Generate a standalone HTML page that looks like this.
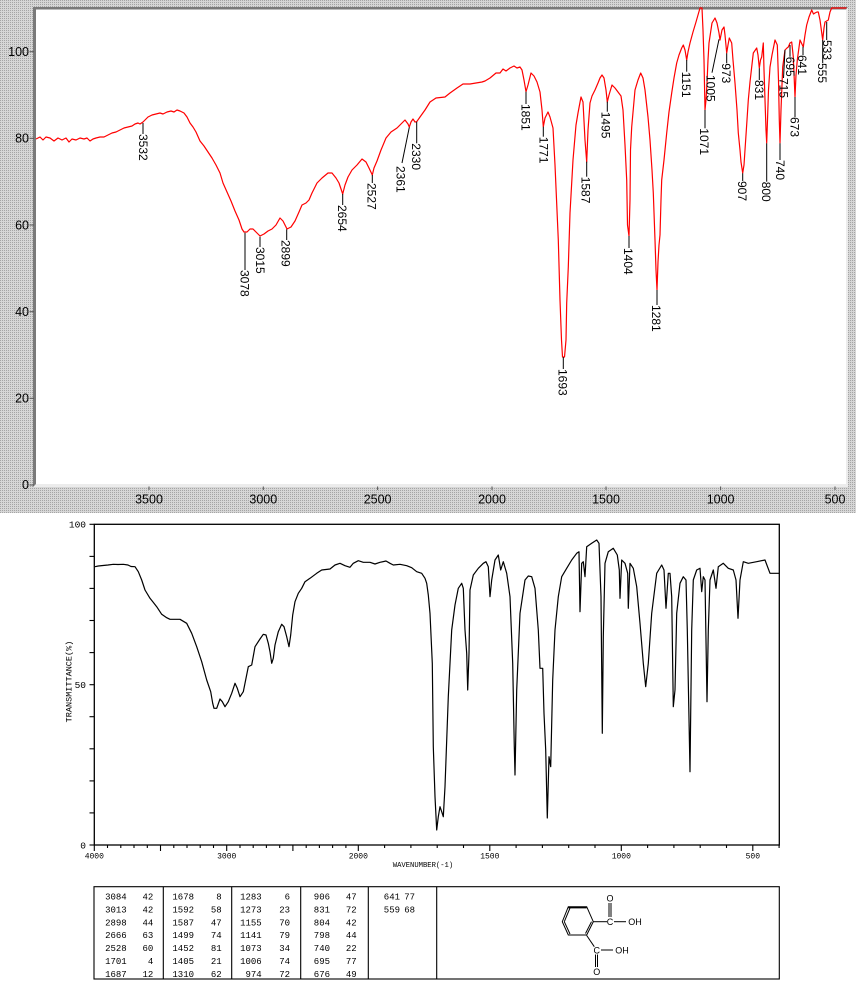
<!DOCTYPE html>
<html><head><meta charset="utf-8"><style>
html,body{margin:0;padding:0;background:#fff;}
svg{display:block;}
</style></head><body>
<svg width="856" height="987" viewBox="0 0 856 987" xmlns="http://www.w3.org/2000/svg">
<defs>
<pattern id="ht" width="2" height="2" patternUnits="userSpaceOnUse">
<rect width="2" height="2" fill="#d6d6d6"/><rect width="1" height="1" fill="#a4a4a4"/>
</pattern>
</defs>
<rect width="856" height="987" fill="#fff"/>
<rect x="0" y="0" width="856" height="513" fill="url(#ht)"/>
<!-- bevel -->
<rect x="33" y="7" width="815" height="480" fill="#ececec"/>
<polygon points="33,7 848,7 846,9.5 36,9.5 36,484 33,487" fill="#7a7a7a"/>
<rect x="36" y="9.5" width="810" height="474.5" fill="#fff"/>

<!-- top y labels -->
<g font-family="Liberation Sans, sans-serif" font-size="12.5" fill="#000" text-anchor="end">
<text x="29" y="56">100</text>
<text x="29" y="142.5">80</text>
<text x="29" y="229.5">60</text>
<text x="29" y="316">40</text>
<text x="29" y="402.5">20</text>
<text x="29" y="489">0</text>
</g>
<g stroke="#555" stroke-width="1">
<line x1="29.5" y1="51.7" x2="34" y2="51.7"/>
<line x1="29.5" y1="138.3" x2="34" y2="138.3"/>
<line x1="29.5" y1="225" x2="34" y2="225"/>
<line x1="29.5" y1="311.7" x2="34" y2="311.7"/>
<line x1="29.5" y1="398.3" x2="34" y2="398.3"/>
<line x1="29.5" y1="485" x2="34" y2="485"/>
<line x1="149" y1="486.5" x2="149" y2="490"/>
<line x1="263.3" y1="486.5" x2="263.3" y2="490"/>
<line x1="377.6" y1="486.5" x2="377.6" y2="490"/>
<line x1="492" y1="486.5" x2="492" y2="490"/>
<line x1="606" y1="486.5" x2="606" y2="490"/>
<line x1="720.6" y1="486.5" x2="720.6" y2="490"/>
<line x1="835" y1="486.5" x2="835" y2="490"/>
</g>
<g font-family="Liberation Sans, sans-serif" font-size="12.5" fill="#000" text-anchor="middle">
<text x="149" y="503.5">3500</text>
<text x="263.3" y="503.5">3000</text>
<text x="377.6" y="503.5">2500</text>
<text x="492" y="503.5">2000</text>
<text x="606" y="503.5">1500</text>
<text x="720.6" y="503.5">1000</text>
<text x="835" y="503.5">500</text>
</g>

<!-- top spectrum -->
<polyline fill="none" stroke="#ff0000" stroke-width="1.2" stroke-linejoin="round" points="36,139 40,137 43,140 46,137 50,138 54,141 58,138 62,140 66,138 69,142 72,139 76,140 80,138 84,139 87,138 90,141 93,139 96,138 100,137 104,137 108,135 112,133 116,132 120,130 124,128 128,127 132,126 135,124 138,123 140,124 143,122 145,120 148,117 152,115 156,114 160,113 163,114 167,112 171,111 174,112 177,110 180,111 184,113 187,117 190,123 193,127 196,132 200,141 204,146 208,152 212,158 216,165 220,173 223,183 227,192 231,201 235,211 239,220 242,229 244,232 247,232 250,229 253,229 256,232 260,236 264,234 268,231 272,229 276,225 280,218 283,221 287,229 291,227 295,221 299,212 302,205 306,203 309,200 312,193 317,183 322,178 328,173 332,173 336,178 339,183 342.7,194 345,185 348,177 352,170 357,165 362,159 366,162 369,168 372.3,175 374,168 377,161 381,150 386,138 391,132 397,128 401,124 405,120 408,124 409.3,127 411,122 413,119 415,122 416.7,121.7 420,117 425,110 430,102 436,98 445,97 450,93 457,88 463,84 470,84 476,83 482,82 485,81 490,78 496,73 500,73 503,69 506,71 510,68 514,66 517,68 520,67 522,70 524,80 526,91.7 528,85 531,73 534,76 537,82 540,92 542,110 543.3,126.7 545,118 548,112 550,117 553,128 555,165 558.3,240 560,300 561.5,340 562.5,357 564.5,357 566,340 566.7,303 568.3,267 570,213 573,160 576,125 578,113 581,97 583,102 585,140 586.7,162 588,130 590,103 592,96 595,90 598,83 600,78 602,75 604,78 606,90 607.3,102 609,95 612,85 615,88 618,92 621,96 623,110 625,145 626.7,180 627.5,225 629,236 630,200 630.5,150 631.7,127 635,90 638,80 640.7,73 643,78 645,90 648,117 650,140 652,170 653.3,193 655,240 656,270 657,290 658,262 659,245 660,235 661,200 661.7,180 664,160 666.7,133 669,112 671.7,93 674,78 676.7,63 679,55 681.7,48 683.3,45 685,50 686.7,60 688,52 690,43 693,32 696,22 698,15 700,8 702,8 703,30 704,60 705,110 706,100 707,83 708,60 709,43 712,23 715,18 717,23 719,33 720,40 722,30 724,27 725,35 726.7,53 728,45 729.3,38 731.7,43 733,60 735,83 737,110 738.3,133 740,150 741,162 742.7,173 744,165 745,150 747,120 748.3,100 750,82 753.3,53 756.7,48 758,55 759.3,68 760.5,60 761.7,57 763.3,43 764,70 765,100 766,130 766.7,143 767.5,120 768.5,90 770,67 772,55 775,40 777.3,45 778.5,80 779.3,120 780,143 781,110 782.7,67 785,50 787,48 788.3,47 790,43 791.7,42 793.3,57 795,97 796,75 797.3,60 800,40 803.3,47 805,35 806.7,25 809,17 811.7,10 813.5,14 815,13 817,12 818.3,12 820,20 822.7,40 824,28 825,22 828.3,20 830,12 831.7,8 833.3,8 846.5,8"/>

<!-- leader lines -->
<g stroke="#000" stroke-width="1" fill="none">
<line x1="143" y1="123" x2="143" y2="134"/>
<line x1="245" y1="232.7" x2="245" y2="270"/>
<line x1="260" y1="236.7" x2="260" y2="247"/>
<line x1="286.7" y1="229.3" x2="286.7" y2="240"/>
<line x1="342.7" y1="194" x2="342.7" y2="205"/>
<line x1="372.3" y1="175" x2="372.3" y2="183"/>
<line x1="409.3" y1="127.3" x2="402" y2="163"/>
<line x1="416.7" y1="121.7" x2="416.7" y2="143.3"/>
<line x1="526" y1="91.7" x2="526" y2="104"/>
<line x1="543.3" y1="126.7" x2="543.3" y2="136.7"/>
<line x1="563.3" y1="357" x2="563.3" y2="369"/>
<line x1="586.7" y1="161.7" x2="586.7" y2="176.7"/>
<line x1="607.3" y1="101.7" x2="607.3" y2="111.7"/>
<line x1="629" y1="236" x2="629" y2="248"/>
<line x1="657" y1="290" x2="657" y2="305"/>
<line x1="686.7" y1="60" x2="686.7" y2="71.7"/>
<line x1="705" y1="110" x2="705" y2="128.3"/>
<line x1="719" y1="39.3" x2="712" y2="72.7"/>
<line x1="726.7" y1="53.3" x2="726.7" y2="63.3"/>
<line x1="742.7" y1="173.3" x2="742.7" y2="181"/>
<line x1="759.3" y1="68.3" x2="759.3" y2="80"/>
<line x1="766.7" y1="143.3" x2="766.7" y2="181.7"/>
<line x1="780" y1="143.3" x2="780" y2="160"/>
<line x1="785" y1="50" x2="783.5" y2="78"/>
<line x1="790" y1="45" x2="790" y2="56.7"/>
<line x1="795" y1="97" x2="795" y2="117"/>
<line x1="803" y1="46.7" x2="803" y2="55"/>
<line x1="826.7" y1="22" x2="826.7" y2="40"/>
<line x1="822.7" y1="40" x2="822.7" y2="63"/>
</g>
<g font-family="Liberation Sans, sans-serif" font-size="12" fill="#000" dominant-baseline="central">
<text transform="translate(143,134) rotate(90)">3532</text>
<text transform="translate(244.5,270) rotate(90)">3078</text>
<text transform="translate(260,247) rotate(90)">3015</text>
<text transform="translate(285.5,240) rotate(90)">2899</text>
<text transform="translate(342,205) rotate(90)">2654</text>
<text transform="translate(371.5,183) rotate(90)">2527</text>
<text transform="translate(400.5,166) rotate(90)">2361</text>
<text transform="translate(416,143.3) rotate(90)">2330</text>
<text transform="translate(525.5,104) rotate(90)">1851</text>
<text transform="translate(543.3,136.7) rotate(90)">1771</text>
<text transform="translate(562.5,369) rotate(90)">1693</text>
<text transform="translate(585.5,176.7) rotate(90)">1587</text>
<text transform="translate(605.5,111.7) rotate(90)">1495</text>
<text transform="translate(628,248) rotate(90)">1404</text>
<text transform="translate(656,305) rotate(90)">1281</text>
<text transform="translate(686,71.7) rotate(90)">1151</text>
<text transform="translate(704,128.3) rotate(90)">1071</text>
<text transform="translate(710.5,75) rotate(90)">1005</text>
<text transform="translate(726,63.3) rotate(90)">973</text>
<text transform="translate(742,181) rotate(90)">907</text>
<text transform="translate(759,80) rotate(90)">831</text>
<text transform="translate(766,181.7) rotate(90)">800</text>
<text transform="translate(780,160) rotate(90)">740</text>
<text transform="translate(783.5,78) rotate(90)">715</text>
<text transform="translate(790,56.7) rotate(90)">695</text>
<text transform="translate(794.5,117) rotate(90)">673</text>
<text transform="translate(802,55) rotate(90)">641</text>
<text transform="translate(827,40) rotate(90)">533</text>
<text transform="translate(822,63) rotate(90)">555</text>
</g>

<!-- bottom plot frame -->
<rect x="94.3" y="524.3" width="685" height="320.7" fill="none" stroke="#000" stroke-width="1.3"/>
<g stroke="#000" stroke-width="1.1">
<line x1="89.5" y1="524.3" x2="94.3" y2="524.3"/>
<line x1="89.5" y1="556.4" x2="94.3" y2="556.4"/>
<line x1="89.5" y1="588.4" x2="94.3" y2="588.4"/>
<line x1="89.5" y1="620.5" x2="94.3" y2="620.5"/>
<line x1="89.5" y1="652.6" x2="94.3" y2="652.6"/>
<line x1="89.5" y1="684.7" x2="94.3" y2="684.7"/>
<line x1="89.5" y1="716.7" x2="94.3" y2="716.7"/>
<line x1="89.5" y1="748.8" x2="94.3" y2="748.8"/>
<line x1="89.5" y1="780.9" x2="94.3" y2="780.9"/>
<line x1="89.5" y1="812.9" x2="94.3" y2="812.9"/>
<line x1="89.5" y1="845" x2="94.3" y2="845"/>
<!-- x ticks -->
<line x1="94.3" y1="845" x2="94.3" y2="851"/>
<line x1="107.5" y1="845" x2="107.5" y2="848"/>
<line x1="120.8" y1="845" x2="120.8" y2="848"/>
<line x1="134" y1="845" x2="134" y2="848"/>
<line x1="147.3" y1="845" x2="147.3" y2="848"/>
<line x1="160.5" y1="845" x2="160.5" y2="851"/>
<line x1="173.8" y1="845" x2="173.8" y2="848"/>
<line x1="187" y1="845" x2="187" y2="848"/>
<line x1="200.2" y1="845" x2="200.2" y2="848"/>
<line x1="213.5" y1="845" x2="213.5" y2="848"/>
<line x1="226.7" y1="845" x2="226.7" y2="851"/>
<line x1="240" y1="845" x2="240" y2="848"/>
<line x1="253.2" y1="845" x2="253.2" y2="848"/>
<line x1="266.4" y1="845" x2="266.4" y2="848"/>
<line x1="279.7" y1="845" x2="279.7" y2="848"/>
<line x1="292.9" y1="845" x2="292.9" y2="851"/>
<line x1="306.2" y1="845" x2="306.2" y2="848"/>
<line x1="319.4" y1="845" x2="319.4" y2="848"/>
<line x1="332.6" y1="845" x2="332.6" y2="848"/>
<line x1="345.9" y1="845" x2="345.9" y2="848"/>
<line x1="358.3" y1="845" x2="358.3" y2="851"/>
<line x1="384.6" y1="845" x2="384.6" y2="848"/>
<line x1="410.9" y1="845" x2="410.9" y2="848"/>
<line x1="437.2" y1="845" x2="437.2" y2="848"/>
<line x1="463.5" y1="845" x2="463.5" y2="848"/>
<line x1="489.8" y1="845" x2="489.8" y2="851"/>
<line x1="516.1" y1="845" x2="516.1" y2="848"/>
<line x1="542.4" y1="845" x2="542.4" y2="848"/>
<line x1="568.7" y1="845" x2="568.7" y2="848"/>
<line x1="595" y1="845" x2="595" y2="848"/>
<line x1="621.3" y1="845" x2="621.3" y2="851"/>
<line x1="647.6" y1="845" x2="647.6" y2="848"/>
<line x1="673.9" y1="845" x2="673.9" y2="848"/>
<line x1="700.2" y1="845" x2="700.2" y2="848"/>
<line x1="726.5" y1="845" x2="726.5" y2="848"/>
<line x1="752.8" y1="845" x2="752.8" y2="851"/>
<line x1="779.1" y1="845" x2="779.1" y2="848"/>
</g>
<g font-family="Liberation Mono, monospace" font-size="9.5" fill="#000" text-anchor="end">
<text x="86" y="527.5">100</text>
<text x="86" y="688">50</text>
<text x="86" y="848.3">0</text>
</g>
<g font-family="Liberation Mono, monospace" font-size="8" fill="#000" text-anchor="middle">
<text x="94.3" y="858.5">4000</text>
<text x="226.7" y="858.5">3000</text>
<text x="358.3" y="858.5">2000</text>
<text x="489.8" y="858.5">1500</text>
<text x="621.3" y="858.5">1000</text>
<text x="752.8" y="858.5">500</text>
</g>
<text x="423" y="867" font-family="Liberation Mono, monospace" font-size="7.2" text-anchor="middle" fill="#000">WAVENUMBER(-1)</text>
<text transform="translate(71.5,681.5) rotate(-90)" font-family="Liberation Mono, monospace" font-size="8.5" text-anchor="middle" fill="#000">TRANSMITTANCE(%)</text>

<!-- bottom spectrum -->
<polyline fill="none" stroke="#000" stroke-width="1.2" stroke-linejoin="round" points="95,566.7 98.3,566 103,565.5 108,565 113.3,564.3 118,564.5 123.3,564.3 128,565 131,566.5 135,566.7 138.3,571.7 141.7,580 145,590 150,598.3 153,602 156.7,606.7 161.7,614.3 166.7,617.7 170,619.3 180,619.3 186.7,623.3 191.7,633.3 196.7,646.7 201.7,661.7 206.7,680 210.7,691.7 212.7,703.3 214,708.3 216.7,708.3 220,699 222.3,701.7 225,706.7 228.3,701.7 231.7,693.3 235,683.3 237.3,688.3 240,696.7 243.3,691.7 248.3,666.7 251.7,665 255,646.7 260,639 263.3,634.3 266,635 268.3,643.3 270,651.7 271.7,663.3 273.3,658.3 275,645 278.3,631.7 281.7,624.3 284,626.7 286.7,636.7 289,646.7 290.7,635 292.7,615 295,601.7 298.3,593.3 301.7,588.3 305,581.7 310,578.3 316.7,573.3 321.7,570 330,569 335,565 340,563.3 345,565.7 350,567.3 353.3,563.3 358.3,560.7 363.3,562.3 370,562.3 375,564 380,562.3 386,561 390,563.3 393.3,565 400,564.3 406.7,565.7 411.7,567.7 416.7,571.7 421.7,573.3 425,578.3 426.7,583.3 428.3,595 430,613.3 432.3,663.3 433.3,746.7 435,796.7 436.7,830 438.3,816.7 440,806.7 441.7,811.7 443.3,816.7 445,786.7 448.3,696.7 451.7,630 455,605 458.3,588.3 461.7,583.3 463.3,588.3 465,630 466.7,653.3 467.7,690 469,653.3 470,590 473.3,575 478.3,568.3 483.3,563.3 486,561.7 488.3,566.7 490,596.7 491.7,580 495,560 498.3,555 500.7,570 503.3,561.7 506.7,573.3 510,596.7 512.7,663.3 514.3,746.7 515,775 516.7,690 520,613.3 525,580 528.3,576 531.7,576.7 535,588.3 538.3,630 540,668.3 542.7,668.3 544,713.3 545.7,750 547.3,818 549,756.7 550.7,766.7 552.7,680 555,630 558.3,596.7 561.7,576.7 566.7,568.3 571.7,560 576.7,553.3 579,551.7 580,611.7 581.7,563.3 583.3,561.7 585,576.7 586.7,546.7 591.7,543.3 596.7,540 599,543.3 601,596.7 602.3,733.3 603.3,636.7 605,563.3 608.3,551.7 613.3,548.3 617.3,555 619.3,570 620,598.3 621.7,560 625,563.3 627.7,573.3 628.3,608.3 630,563.3 633.3,568.3 636.7,586.7 640,623.3 643.3,663.3 645.7,686.7 648.3,663.3 651.7,613.3 656.7,573.3 661.7,565 664,570 666,608.3 668.3,573.3 670,573.3 671.7,596.7 673.3,706.7 675,690 676.7,613.3 680,583.3 683.3,576.7 686,580 687.3,630 690,771.7 691.7,630 693.3,580 696.7,570 700,568.3 701.7,591.7 703.3,576.7 705,580 707,701.7 708.3,630 710,580 713.3,570 716,588.3 718.3,566.7 723.3,563.3 728.3,568.3 733.3,570 736,580 738,618.3 740,580 743.3,561.7 748.3,563.3 756.7,561.7 765,560 770,573.3 779.3,573.3"/>

<!-- table -->
<g stroke="#000" stroke-width="1.1" fill="none">
<rect x="94" y="886.7" width="685.3" height="92.3"/>
<line x1="163.3" y1="886.7" x2="163.3" y2="979"/>
<line x1="231.7" y1="886.7" x2="231.7" y2="979"/>
<line x1="300.7" y1="886.7" x2="300.7" y2="979"/>
<line x1="368.3" y1="886.7" x2="368.3" y2="979"/>
<line x1="436.7" y1="886.7" x2="436.7" y2="979"/>
</g>
<g font-family="Liberation Mono, monospace" font-size="9" fill="#000" text-anchor="end">
<text x="126.7" y="899.5">3084</text><text x="153.3" y="899.5">42</text>
<text x="126.7" y="912.5">3013</text><text x="153.3" y="912.5">42</text>
<text x="126.7" y="925.5">2898</text><text x="153.3" y="925.5">44</text>
<text x="126.7" y="938.2">2666</text><text x="153.3" y="938.2">63</text>
<text x="126.7" y="951.2">2528</text><text x="153.3" y="951.2">60</text>
<text x="126.7" y="963.9">1701</text><text x="153.3" y="963.9">4</text>
<text x="126.7" y="976.9">1687</text><text x="153.3" y="976.9">12</text>

<text x="194" y="899.5">1678</text><text x="221.7" y="899.5">8</text>
<text x="194" y="912.5">1592</text><text x="221.7" y="912.5">58</text>
<text x="194" y="925.5">1587</text><text x="221.7" y="925.5">47</text>
<text x="194" y="938.2">1499</text><text x="221.7" y="938.2">74</text>
<text x="194" y="951.2">1452</text><text x="221.7" y="951.2">81</text>
<text x="194" y="963.9">1405</text><text x="221.7" y="963.9">21</text>
<text x="194" y="976.9">1310</text><text x="221.7" y="976.9">62</text>

<text x="261.7" y="899.5">1283</text><text x="290" y="899.5">6</text>
<text x="261.7" y="912.5">1273</text><text x="290" y="912.5">23</text>
<text x="261.7" y="925.5">1155</text><text x="290" y="925.5">70</text>
<text x="261.7" y="938.2">1141</text><text x="290" y="938.2">79</text>
<text x="261.7" y="951.2">1073</text><text x="290" y="951.2">34</text>
<text x="261.7" y="963.9">1006</text><text x="290" y="963.9">74</text>
<text x="261.7" y="976.9">974</text><text x="290" y="976.9">72</text>

<text x="330" y="899.5">906</text><text x="356.7" y="899.5">47</text>
<text x="330" y="912.5">831</text><text x="356.7" y="912.5">72</text>
<text x="330" y="925.5">804</text><text x="356.7" y="925.5">42</text>
<text x="330" y="938.2">798</text><text x="356.7" y="938.2">44</text>
<text x="330" y="951.2">740</text><text x="356.7" y="951.2">22</text>
<text x="330" y="963.9">695</text><text x="356.7" y="963.9">77</text>
<text x="330" y="976.9">676</text><text x="356.7" y="976.9">49</text>

<text x="400" y="899.5">641</text><text x="415" y="899.5">77</text>
<text x="400" y="912.5">559</text><text x="415" y="912.5">68</text>
</g>

<!-- structure -->
<g stroke="#000" stroke-width="1" fill="none">
<polygon points="568.3,906.7 586.7,906.7 593.3,921.7 586.7,935 568.3,935 562.3,921.7"/>
<line x1="568.3" y1="907.6" x2="586.7" y2="907.6" stroke-width="1.6"/>
<line x1="564.3" y1="921.7" x2="570" y2="934"/>
<line x1="564.3" y1="921.7" x2="570" y2="908"/>
<line x1="585.5" y1="933.5" x2="591.5" y2="921.7"/>
<line x1="593.3" y1="921.7" x2="607" y2="921.7"/>
<line x1="609" y1="903" x2="609" y2="917"/>
<line x1="611" y1="903" x2="611" y2="917"/>
<line x1="614" y1="921.7" x2="626" y2="921.7"/>
<line x1="586.7" y1="935.5" x2="594.3" y2="946.7"/>
<line x1="601" y1="950" x2="613" y2="950"/>
<line x1="595.5" y1="954.5" x2="595.5" y2="967"/>
<line x1="597.5" y1="954.5" x2="597.5" y2="967"/>
</g>
<g font-family="Liberation Sans, sans-serif" font-size="9" fill="#000" text-anchor="middle">
<text x="610" y="901.5">O</text>
<text x="610" y="925">C</text>
<text x="635" y="925">OH</text>
<text x="596.7" y="953.3">C</text>
<text x="622" y="953.3">OH</text>
<text x="596.7" y="975">O</text>
</g>
</svg>
</body></html>
